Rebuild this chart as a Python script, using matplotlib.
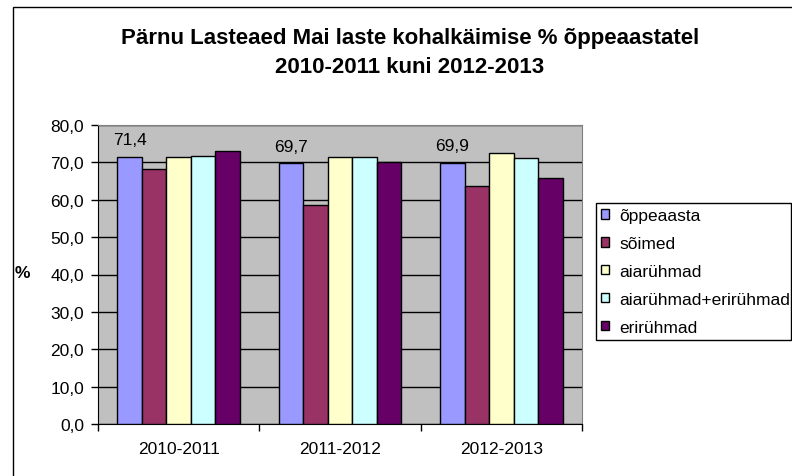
import numpy as np
import matplotlib
matplotlib.use("Agg")
import matplotlib.pyplot as plt
from matplotlib.patches import Rectangle
from matplotlib.ticker import FixedLocator, FuncFormatter

plt.rcParams['font.family'] = ['Liberation Sans', 'DejaVu Sans']

# data
seasons = ['2010-2011', '2011-2012', '2012-2013']
series_names = ['õppeaasta', 'sõimed', 'aiarühmad', 'aiarühmad+erirühmad', 'erirühmad']
oppeaasta = [71.4, 69.7, 69.9]
soimed = [68.2, 58.6, 63.7]
aiaruhmad = [71.4, 71.4, 72.4]
aia_eri = [71.8, 71.4, 71.1]
eriruhmad = [73.0, 70.0, 65.9]
colors = ['#9999FF', '#993366', '#FFFFCC', '#CCFFFF', '#660066']

W, H = 792, 477
fig = plt.figure(figsize=(W / 100, H / 100), dpi=100)
ax = fig.add_axes([98 / W, 1 - 425 / H, (582 - 98) / W, (425 - 126) / H])
ax.set_facecolor('#C0C0C0')

all_series = [oppeaasta, soimed, aiaruhmad, aia_eri, eriruhmad]
x = np.arange(len(seasons))
bw = 0.152
bars = []
for i, (vals, c) in enumerate(zip(all_series, colors)):
    b = ax.bar(x + (i - 2) * bw, vals, bw, color=c, edgecolor='black',
               linewidth=1.0, zorder=3, label=series_names[i])
    bars.append(b)

# labels only on the first series
for xi, v in zip(x - 2 * bw, oppeaasta):
    ax.annotate(f'{v:.1f}'.replace('.', ','), (xi, v), xytext=(0, 7),
                textcoords='offset points', ha='center', va='bottom', fontsize=12.5)

ax.set_ylim(0, 80)
ax.set_xlim(-0.5, 2.5)
ax.set_yticks(np.arange(0, 81, 10))
ax.yaxis.set_major_formatter(FuncFormatter(lambda v, p: f'{v:.1f}'.replace('.', ',')))
ax.yaxis.grid(True, color='black', linewidth=1.0, zorder=0)
ax.set_axisbelow(True)
ax.tick_params(axis='y', direction='out', length=5, width=1, pad=5, labelsize=12.5)

ax.xaxis.set_major_locator(FixedLocator([-0.5, 0.5, 1.5, 2.5]))
ax.xaxis.set_minor_locator(FixedLocator(x))
ax.set_xticklabels([], minor=False)
ax.set_xticklabels(seasons, minor=True)
ax.tick_params(axis='x', which='major', direction='out', length=5, width=1)
ax.tick_params(axis='x', which='minor', length=0, pad=12, labelsize=12.5)

for s in ['top', 'right']:
    ax.spines[s].set_color('#808080')
for s in ['left', 'bottom']:
    ax.spines[s].set_color('black')

fig.text(410 / W, 1 - 53 / H, 'Pärnu Lasteaed Mai laste kohalkäimise % õppeaastatel\n2010-2011 kuni 2012-2013',
         ha='center', va='center', fontsize=16, fontweight='bold', linespacing=1.45)
fig.text(22 / W, 1 - 273 / H, '%', ha='center', va='center', fontsize=12.5, fontweight='bold')

leg = fig.legend(handles=bars, labels=series_names, loc='upper left',
                 bbox_to_anchor=(596 / W, 0, (791 - 596) / W, 1 - 204 / H),
                 bbox_transform=fig.transFigure, mode='expand', borderaxespad=0,
                 fontsize=12.5, handlelength=0.46, handleheight=0.46, handletextpad=0.6,
                 labelspacing=0.74, borderpad=0.3, fancybox=False, framealpha=1)
leg.get_frame().set_edgecolor('black')
leg.get_frame().set_linewidth(1.0)

# outer chart border
fig.patches.append(Rectangle((12.5 / W, -0.2), 1.0, 1 - 7.5 / H + 0.2, transform=fig.transFigure,
                             fill=False, edgecolor='black', linewidth=1.0, zorder=0))

fig.savefig('out.png', dpi=100)
